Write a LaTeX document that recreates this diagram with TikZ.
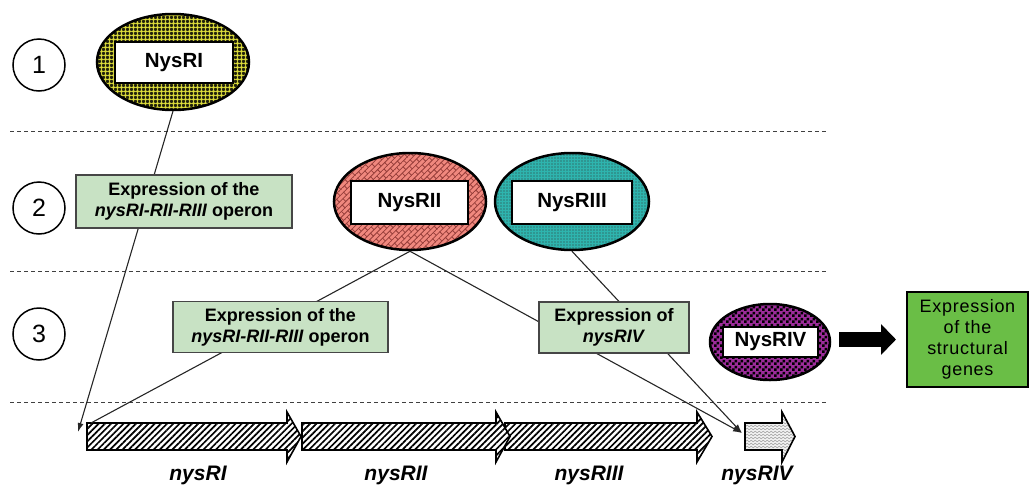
\documentclass[tikz,border=0pt]{standalone}
\usepackage{fontspec}
\setmainfont{Liberation Sans}
\usetikzlibrary{shapes.geometric,patterns,patterns.meta,decorations.pathmorphing,arrows.meta}

\definecolor{boxgreen}{RGB}{200,226,196}
\definecolor{strgreen}{RGB}{106,190,70}
\definecolor{salm}{RGB}{240,136,126}
\definecolor{shinglec}{RGB}{150,62,58}
\definecolor{tealc}{RGB}{46,180,174}
\definecolor{purp}{RGB}{156,44,154}
\definecolor{yelc}{RGB}{222,222,60}
\definecolor{olivedark}{RGB}{34,34,12}
\definecolor{bordergray}{RGB}{70,70,70}

\tikzdeclarepattern{
  name=myshingle,
  type=uncolored,
  bottom left={(-0.5pt,-0.5pt)},
  top right={(10.5pt,8.5pt)},
  tile size={(10pt,8pt)},
  tile transformation={rotate=45},
  code={
    \draw[line width=0.8pt] (-0.5pt,0pt) -- (10.5pt,0pt) (-0.5pt,4pt) -- (10.5pt,4pt)
      (0pt,0pt) -- (0pt,4pt) (5pt,4pt) -- (5pt,8pt);
  }
}
\tikzdeclarepattern{
  name=mychecker,
  type=uncolored,
  bottom left={(0pt,0pt)},
  top right={(6pt,6pt)},
  tile size={(6pt,6pt)},
  code={
    \fill (0pt,0pt) rectangle (3pt,3pt);
    \fill (3pt,3pt) rectangle (6pt,6pt);
  }
}

\begin{document}
\begin{tikzpicture}[x=1pt,y=-1pt,
  bigell/.style={ellipse, draw=black, line width=2.5pt, inner sep=0pt},
  lab/.style={draw=black, fill=white, line width=2.5pt, inner sep=0pt,
    font=\fontsize{20.5}{24}\selectfont\bfseries},
  expbox/.style={draw=bordergray, fill=boxgreen, line width=1.2pt, inner sep=0pt,
    align=center, font=\fontsize{18}{21}\selectfont\bfseries},
  num/.style={circle, draw=black, line width=1.5pt, minimum size=52pt, inner sep=0pt,
    font=\fontsize{25}{25}\selectfont},
  conn/.style={draw=black!85, line width=1.1pt},
  arrowed/.style={-{Latex[length=9pt,width=6pt]}},
  divider/.style={draw=black!75, line width=0.9pt, dash pattern=on 4pt off 3pt},
  gene/.style={draw=black, line width=1.6pt, preaction={fill=white},
    pattern={Lines[angle=45,distance=4.4pt,line width=1.7pt]}, pattern color=black},
  genelab/.style={font=\fontsize{21}{24}\selectfont\bfseries\itshape},
  bigarrow/.style={draw=black, line width=15pt, -{Triangle[length=15pt,width=30pt]}}
]
\useasboundingbox (0,0) rectangle (1029,485);

% dividers
\draw[divider] (10,131) -- (828,131);
\draw[divider] (10,271) -- (828,271);
\draw[divider] (10,402) -- (828,402);

% step numbers
\node[num] (n1) at (39,65) {1};
\node[num] (n2) at (39,208) {2};
\node[num] (n3) at (39,334) {3};

% genes
\path[gene] (505,423) -- (697,423) -- (697,412) -- (712,436.5) -- (697,462) -- (697,450) -- (505,450) -- cycle;
\path[gene] (302,423) -- (496,423) -- (496,412) -- (510,436.5) -- (496,462) -- (496,450) -- (302,450) -- cycle;
\path[gene] (87,423) -- (287,423) -- (287,412) -- (301,436.5) -- (287,462) -- (287,450) -- (87,450) -- cycle;
\begin{scope}
  \clip (745,423) -- (782,423) -- (782,412) -- (795,436.5) -- (782,462) -- (782,450) -- (745,450) -- cycle;
  \fill[gray!10] (740,405) rectangle (800,470);
  \foreach \yy in {414,417,...,462}
    \draw[gray!75, line width=0.5pt, decorate, decoration={snake,amplitude=0.9pt,segment length=4pt}] (738,\yy) -- (800,\yy);
\end{scope}
\draw[line width=1.6pt] (745,423) -- (782,423) -- (782,412) -- (795,436.5) -- (782,462) -- (782,450) -- (745,450) -- cycle;

\coordinate (g1tip) at (78,432);
\coordinate (g1corner) at (91,423);
\coordinate (g4tip) at (742,433);

\node[genelab] (l1) at (198,475) {nysRI};
\node[genelab] (l2) at (396,475) {nysRII};
\node[genelab] (l3) at (589,475) {nysRIII};
\node[genelab] (l4) at (757,475) {nysRIV};

% regulators
\node[bigell, minimum width=152pt, minimum height=96pt, preaction={fill=yelc},
  pattern={Hatch[distance=4pt,line width=2.2pt]}, pattern color=olivedark] (nysri) at (173,62) {};
\node[lab, minimum width=118pt, minimum height=41pt] (nysril) at (174,62.5) {NysRI};

\node[bigell, minimum width=152pt, minimum height=97pt, preaction={fill=salm},
  pattern=myshingle, pattern color=shinglec] (nysrii) at (410,201.5) {};
\node[lab, minimum width=117pt, minimum height=43pt] (nysriil) at (409.5,202.5) {NysRII};

\node[bigell, minimum width=154pt, minimum height=97pt, preaction={fill=tealc},
  pattern={Dots[radius=0.7pt,distance=3pt]}, pattern color=black!80] (nysriii) at (572,201.5) {};
\node[lab, minimum width=120pt, minimum height=43pt] (nysriiil) at (572,202.5) {NysRIII};

\node[bigell, minimum width=120pt, minimum height=76pt, preaction={fill=purp},
  pattern=mychecker, pattern color=black] (nysriv) at (770,342) {};
\node[lab, minimum width=95pt, minimum height=30pt] (nysrivl) at (770.5,342) {NysRIV};

% connectors
\draw[conn, arrowed] (nysri.south) -- (g1tip);
\draw[conn] (nysrii.south) -- (g1corner);
\draw[conn, arrowed] (nysrii.south) -- (g4tip);
\draw[conn, arrowed] (nysriii.south) -- (g4tip);

% expression boxes
\node[expbox, minimum width=216pt, minimum height=53pt] (boxa) at (184,201.5)
  {Expression of the\\\textit{nysRI-RII-RIII} operon};
\node[expbox, minimum width=215pt, minimum height=51pt] (boxb) at (280.5,327)
  {Expression of the\\\textit{nysRI-RII-RIII} operon};
\node[expbox, minimum width=150pt, minimum height=51pt] (boxc) at (614,327.5)
  {Expression of\\\textit{nysRIV}};

% structural genes
\node[draw=black, line width=2pt, fill=strgreen, minimum width=121pt, minimum height=95pt,
  inner sep=0pt, align=center,
  font=\fontsize{18}{21}\selectfont\addfontfeature{LetterSpace=4}] (sgenes) at (967.5,339.5)
  {Expression\\of the\\structural\\genes};
\draw[bigarrow, shorten <=8pt, shorten >=10pt] (nysriv.east |- sgenes.west) -- (sgenes.west);

\end{tikzpicture}
\end{document}
